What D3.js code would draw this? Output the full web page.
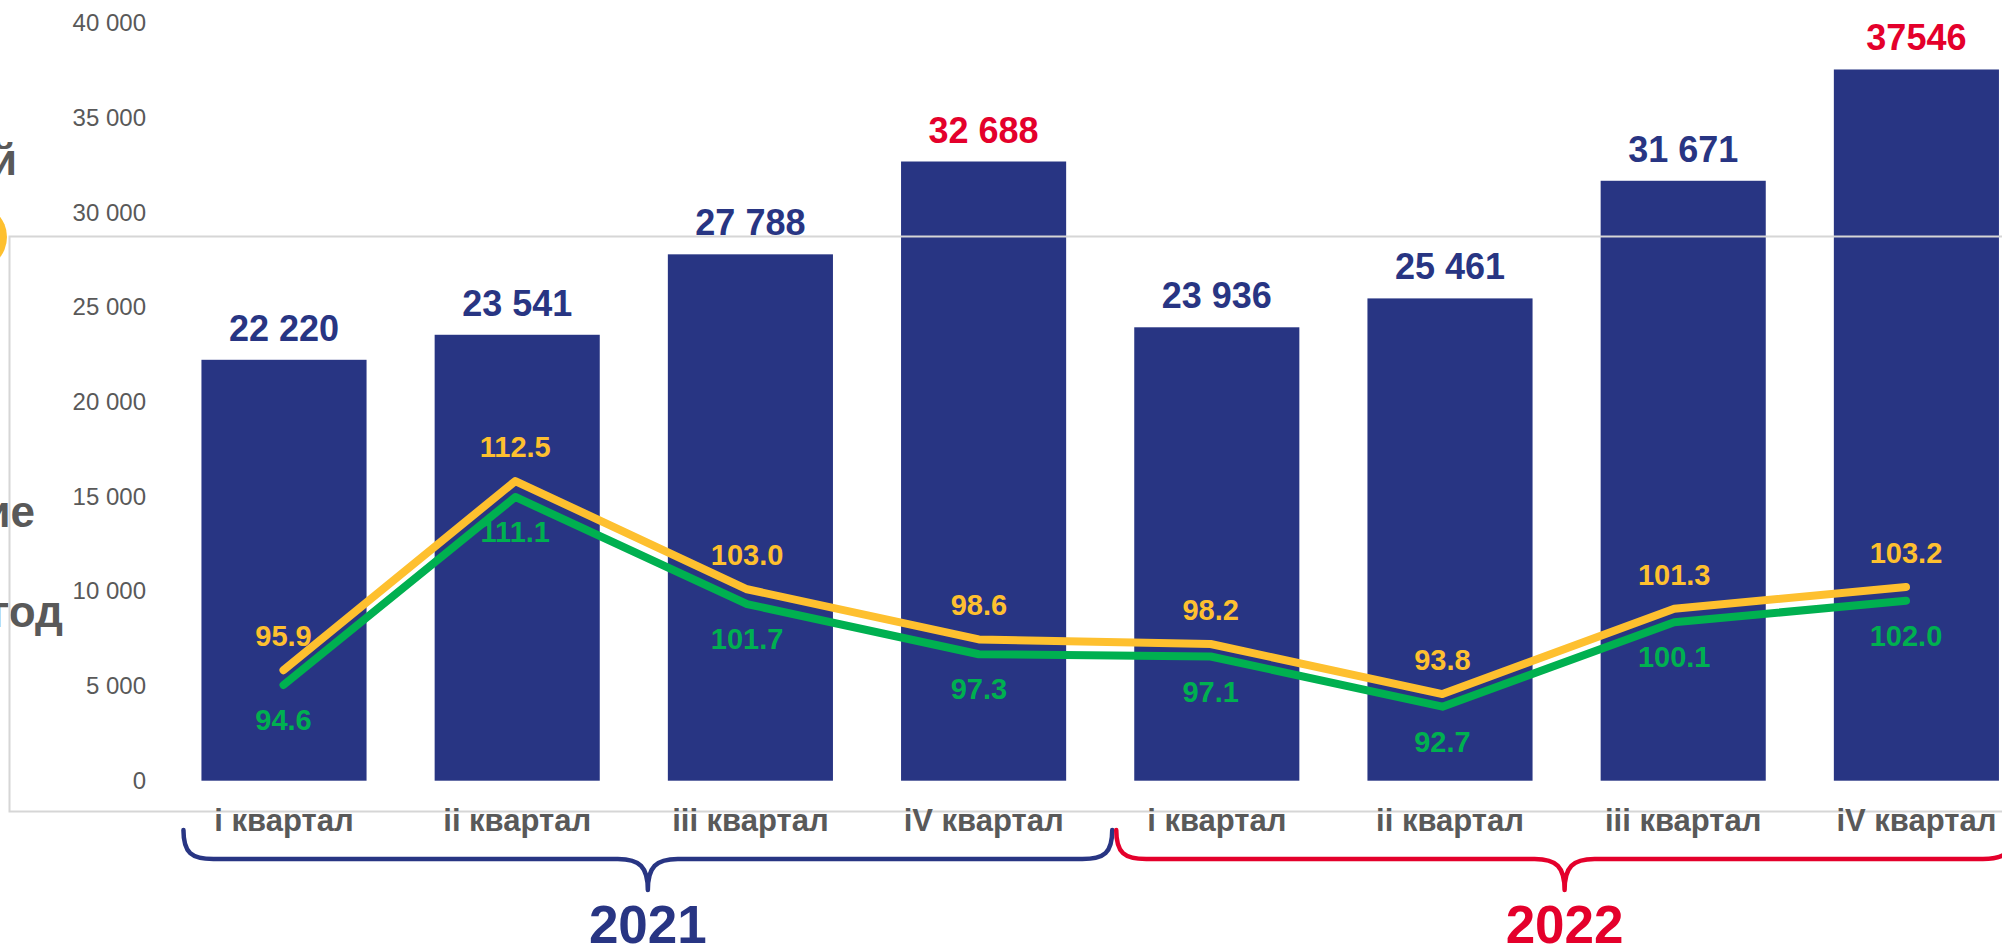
<!DOCTYPE html>
<meta charset="utf-8">
<head>
<style>
body { margin: 0; background: #fff; }
svg { display: block; font-family: "Liberation Sans", Arial, sans-serif; }
.ytick text { font-size: 24px; fill: #595959; }
.bar { fill: #283583; }
.value { font-size: 36px; font-weight: bold; text-anchor: middle; }
.xtick text { font-size: 31px; font-weight: bold; fill: #595959; }
.idx { font-size: 29px; font-weight: bold; text-anchor: middle; }
.year { font-size: 53px; font-weight: bold; text-anchor: middle; }
.side { font-size: 44px; font-weight: bold; fill: #595959; text-anchor: end; }
.frame { fill: none; stroke: #d6d6d6; stroke-width: 2; }
</style>
</head>
<body>
<script src="https://cdn.jsdelivr.net/npm/d3@7/dist/d3.min.js"></script>
<script>

// quarters, two years
var quarterLabels = ["i квартал", "ii квартал", "iii квартал", "iV квартал",
                     "i квартал", "ii квартал", "iii квартал", "iV квартал"];
var years = ["2021", "2022"];
var yearColors = ["#283583", "#e4002b"];

// bars
var volumes = [22220, 23541, 27788, 32688, 23936, 25461, 31671, 37546];
var volumeLabels = ["22 220", "23 541", "27 788", "32 688", "23 936", "25 461", "31 671", "37546"];

// index lines (% to previous period)
var indexYellow = [95.9, 112.5, 103.0, 98.6, 98.2, 93.8, 101.3, 103.2];
var indexGreen  = [94.6, 111.1, 101.7, 97.3, 97.1, 92.7, 100.1, 102.0];

var yTicks = [0, 5000, 10000, 15000, 20000, 25000, 30000, 35000, 40000];

// cut-off words at the left edge (from a neighbouring slide element)
var sideWords = ["й", "ие", "год"];

var width = 2002, height = 945;
var idx = d3.range(volumes.length);

var svg = d3.select("body").append("svg")
    .attr("width", width)
    .attr("height", height);

var x = d3.scaleBand()
    .domain(idx)
    .range([167.4, 2033])
    .paddingInner(0.292)
    .paddingOuter(0.146);

var y = d3.scaleLinear()
    .domain([0, 40000])
    .range([780.7, 23]);

// secondary scale for the index lines
var xl = d3.scalePoint()
    .domain(idx)
    .range([283.5, 1906]);

var yl = d3.scaleLinear()
    .domain([86.2, 152.7])
    .range([780.7, 23]);

// left cropped stuff
svg.append("circle")
    .attr("cx", -26).attr("cy", 237).attr("r", 33)
    .attr("fill", "#fec02f");

var sideX = [17, 35, 63], sideY = [175, 527, 627];
svg.selectAll(".side")
    .data(sideWords)
    .enter().append("text")
    .attr("class", "side")
    .attr("x", function(d, i) { return sideX[i]; })
    .attr("y", function(d, i) { return sideY[i]; })
    .text(function(d) { return d; });

// y axis
var yAxis = svg.append("g")
    .attr("class", "ytick")
    .attr("transform", "translate(146,0)")
    .call(d3.axisLeft(y)
        .tickValues(yTicks)
        .tickSize(0)
        .tickPadding(0)
        .tickFormat(function(d) { return d3.format(",")(d).replace(/,/g, " "); }));
yAxis.select(".domain").remove();

// bars
svg.selectAll(".bar")
    .data(volumes)
    .enter().append("rect")
    .attr("class", "bar")
    .attr("x", function(d, i) { return x(i); })
    .attr("y", function(d) { return y(d); })
    .attr("width", x.bandwidth())
    .attr("height", function(d) { return y(0) - y(d); });

svg.selectAll(".value")
    .data(volumes)
    .enter().append("text")
    .attr("class", "value")
    .attr("x", function(d, i) { return x(i) + x.bandwidth() / 2; })
    .attr("y", function(d) { return y(d) - 19; })
    .attr("fill", function(d, i) { return i % 4 == 3 ? "#e4002b" : "#283583"; })
    .text(function(d, i) { return volumeLabels[i]; });

// frame (sits over the bars)
svg.append("rect")
    .attr("class", "frame")
    .attr("x", 9.5).attr("y", 236.5)
    .attr("width", 2100).attr("height", 575);

// x axis labels
var xAxis = svg.append("g")
    .attr("class", "xtick")
    .attr("transform", "translate(0,831)")
    .call(d3.axisBottom(x)
        .tickSize(0)
        .tickFormat(function(i) { return quarterLabels[i]; }));
xAxis.select(".domain").remove();
xAxis.selectAll("text").attr("y", 0).attr("dy", 0);

// lines
var line = d3.line()
    .x(function(d, i) { return xl(i); })
    .y(function(d) { return yl(d); });

var series = [
    {values: indexGreen, color: "#00b050", dy: 45},
    {values: indexYellow, color: "#fec02f", dy: -24}
];

series.forEach(function(s) {
    svg.append("path")
        .datum(s.values)
        .attr("d", line)
        .attr("fill", "none")
        .attr("stroke", s.color)
        .attr("stroke-width", 8)
        .attr("stroke-linecap", "round")
        .attr("stroke-linejoin", "round");
});

series.forEach(function(s) {
    svg.selectAll(null)
        .data(s.values)
        .enter().append("text")
        .attr("class", "idx")
        .attr("x", function(d, i) { return xl(i); })
        .attr("y", function(d) { return yl(d) + s.dy; })
        .attr("fill", s.color)
        .text(function(d) { return d3.format(".1f")(d); });
});

// year braces
function brace(x0, x1, cx) {
    var top = 830, mid = 859, tip = 890;
    return "M" + x0 + "," + top +
        " C" + x0 + "," + (mid - 6) + " " + (x0 + 8) + "," + mid + " " + (x0 + 30) + "," + mid +
        " L" + (cx - 30) + "," + mid +
        " C" + (cx - 8) + "," + mid + " " + cx + "," + (mid + 8) + " " + cx + "," + tip +
        " M" + cx + "," + tip +
        " C" + cx + "," + (mid + 8) + " " + (cx + 8) + "," + mid + " " + (cx + 30) + "," + mid +
        " L" + (x1 - 30) + "," + mid +
        " C" + (x1 - 8) + "," + mid + " " + x1 + "," + (mid - 6) + " " + x1 + "," + top;
}

years.forEach(function(yr, k) {
    var first = k * 4, last = k * 4 + 3;
    var x0 = x(first) - 18;
    var x1 = k < years.length - 1 ? x(last + 1) - 22 : x(last) + x.bandwidth() + 14;
    var cx = (x0 + x1) / 2;
    svg.append("path")
        .attr("d", brace(x0, x1, cx))
        .attr("fill", "none")
        .attr("stroke", yearColors[k])
        .attr("stroke-width", 4.5)
        .attr("stroke-linecap", "round");
    svg.append("text")
        .attr("class", "year")
        .attr("x", cx)
        .attr("y", 943)
        .attr("fill", yearColors[k])
        .text(yr);
});

</script>
</body>
